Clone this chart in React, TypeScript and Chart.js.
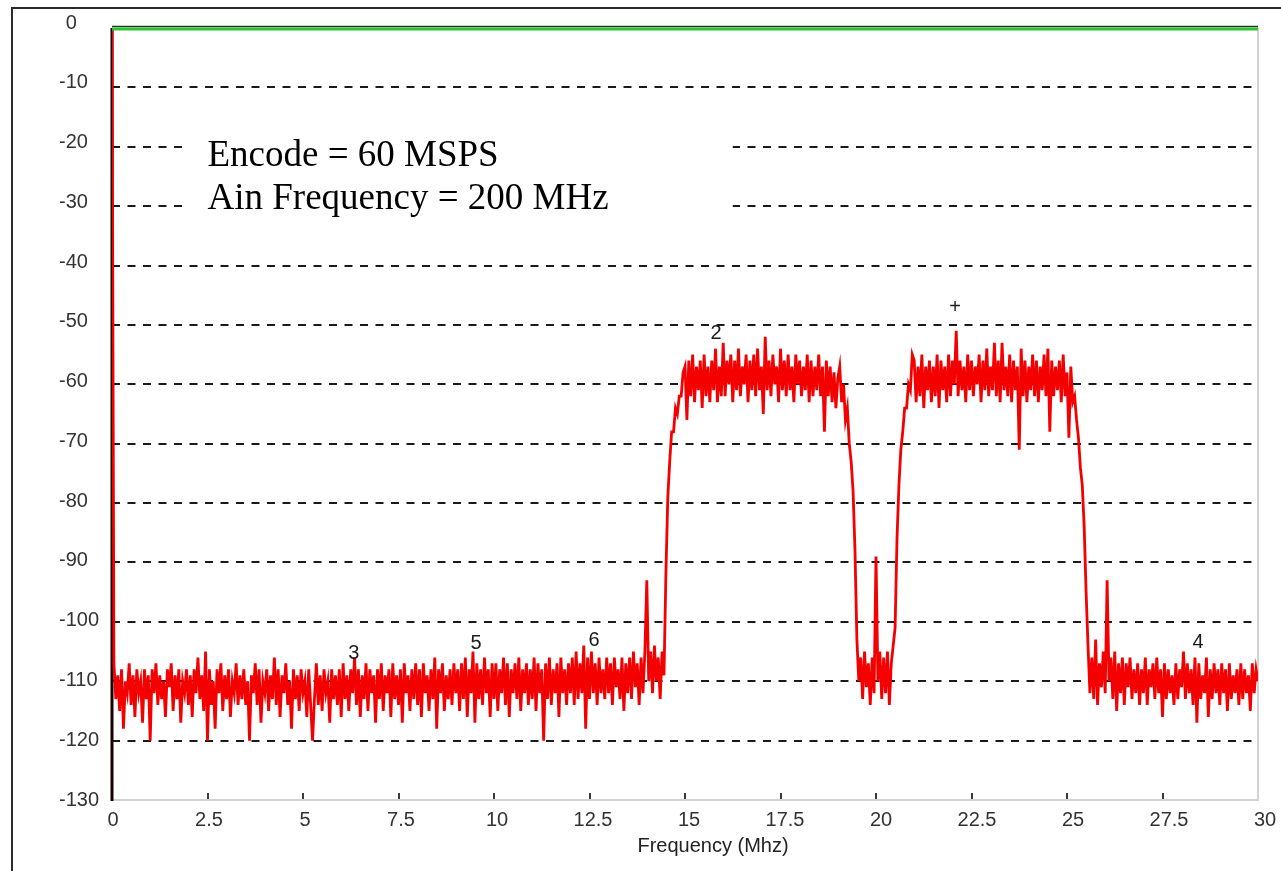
import React, { useEffect, useRef } from 'react';
import { Chart, registerables } from 'chart.js';

Chart.register(...registerables);

// Frequency grid of the FFT trace (MHz per bin)
const FREQ_STEP_MHZ = 0.05;

// Trace levels in dBFS, bin by bin (0.05 MHz apart)
// 0.00 .. 14.45 MHz : noise floor
const floorLow = [
  0, -107, -113, -109, -115, -108, -118, -110, -112, -107, -114, -109, -116, -108, -112, -110, -117, -108, -113, -109,
  -120, -108, -112, -107, -114, -109, -113, -110, -116, -108, -111, -107, -115, -109, -113, -108, -117, -110, -112, -108,
  -114, -109, -116, -108, -112, -106, -113, -109, -115, -105, -120, -108, -114, -110, -118, -108, -112, -107, -115, -109,
  -113, -108, -116, -110, -112, -107, -114, -109, -113, -108, -114, -110, -120, -109, -112, -107, -114, -108, -117, -110,
  -112, -108, -115, -109, -113, -106, -114, -108, -116, -109, -112, -107, -114, -110, -118, -108, -113, -109, -115, -108,
  -112, -110, -116, -108, -114, -120, -113, -107, -114, -109, -115, -108, -112, -110, -117, -108, -113, -109, -114, -108,
  -116, -107, -113, -109, -115, -108, -112, -106, -114, -108, -116, -109, -113, -107, -115, -108, -112, -109, -117, -108,
  -113, -107, -115, -109, -112, -108, -116, -107, -113, -109, -114, -108, -117, -107, -112, -109, -115, -108, -113, -107,
  -114, -108, -116, -107, -112, -109, -115, -108, -113, -106, -118, -108, -112, -107, -115, -109, -113, -108, -114, -107,
  -112, -108, -115, -107, -113, -106, -116, -108, -112, -105, -117, -107, -113, -108, -114, -106, -112, -108, -116, -107,
  -113, -107, -115, -108, -112, -106, -114, -107, -116, -108, -112, -107, -113, -106, -115, -108, -112, -107, -114, -108,
  -113, -106, -115, -107, -112, -108, -120, -107, -113, -106, -114, -108, -112, -107, -116, -106, -112, -108, -114, -107,
  -112, -106, -114, -105, -113, -107, -112, -104, -118, -106, -113, -105, -112, -107, -114, -106, -112, -108, -113, -106,
  -112, -107, -114, -106, -111, -108, -113, -106, -115, -107, -112, -106, -113, -105, -111, -107, -114, -106, -112, -105,
  -93, -110, -105, -112, -104, -110, -106, -113, -105, -109,
];
// 14.50 .. 14.95 MHz : rising edge of the first alias band
const riseA = [-92, -79, -73, -68, -68, -64, -65, -62, -62, -58];
// 15.00 .. 19.00 MHz : first band plateau
const bandA = [
  -57, -66, -56, -62, -55, -63, -57, -61, -56, -64, -55, -62, -57, -63, -56, -61, -54, -63, -57, -62,
  -53, -62, -56, -60, -55, -63, -56, -61, -54, -62, -57, -60, -55, -63, -56, -61, -55, -62, -54, -61,
  -57, -65, -52, -61, -56, -62, -55, -60, -57, -63, -54, -61, -56, -62, -55, -61, -57, -63, -55, -60,
  -56, -62, -57, -61, -55, -63, -56, -62, -57, -61, -55, -62, -57, -68, -56, -62, -57, -63, -58, -64,
  -59,
];
// 19.05 .. 19.50 MHz : falling edge
const fallA = [-57, -63, -60, -66, -64, -70, -73, -78, -88, -103];
// 19.55 .. 20.45 MHz : notch between the bands
const notch = [-110, -106, -113, -105, -111, -107, -114, -106, -112, -89, -110, -105, -113, -106, -112, -105, -114, -107, -104];
// 20.50 .. 20.95 MHz : rising edge of the second band
const riseB = [-101, -86, -77, -71, -68, -64, -64, -60, -61, -55];
// 21.00 .. 25.05 MHz : second band plateau
const bandB = [
  -56, -63, -57, -62, -55, -64, -57, -61, -56, -63, -57, -62, -55, -64, -56, -61, -57, -63, -55, -62,
  -56, -60, -51, -62, -56, -61, -57, -63, -55, -61, -56, -62, -57, -60, -55, -63, -56, -61, -54, -62,
  -57, -61, -53, -62, -56, -63, -53, -61, -57, -62, -55, -63, -56, -61, -57, -71, -54, -62, -56, -63,
  -57, -61, -55, -62, -56, -63, -57, -61, -55, -62, -54, -68, -56, -62, -57, -61, -56, -63, -55, -62,
  -58, -69,
];
// 25.10 .. 25.50 MHz : falling edge
const fallB = [-57, -63, -62, -66, -69, -74, -77, -84, -95];
// 25.55 .. 30.00 MHz : noise floor
const floorHigh = [
  -104, -112, -106, -113, -103, -114, -107, -111, -105,
  -112, -93, -110, -106, -113, -105, -115, -107, -112, -106, -114, -107, -111, -106, -113, -108, -112, -107, -114, -108,
  -112, -106, -114, -108, -111, -107, -113, -106, -112, -108, -116, -107, -113, -108, -112, -109, -114, -107, -113, -108,
  -111, -105, -113, -107, -112, -108, -114, -106, -117, -107, -113, -109, -112, -106, -116, -108, -113, -107, -112, -108,
  -114, -107, -112, -108, -115, -107, -113, -109, -112, -108, -114, -107, -113, -108, -112, -109, -115, -107, -112, -108,
  -110,
];

const spectrumDb = [...floorLow, ...riseA, ...bandA, ...fallA, ...notch, ...riseB, ...bandB, ...fallB, ...floorHigh];

// Axis setup
const X_MIN = 0;
const X_MAX = 30;
const X_STEP = 2.5;
const Y_MIN = -130;
const Y_MAX = 0;
const Y_STEP = 10;
const X_TITLE = 'Frequency (Mhz)';

// Reference (full-scale) level line
const refLevelDb = 0;

// Harmonic / marker labels on the trace
const markerLabels = ['2', '+', '3', '5', '6', '4'];
const markerFreqs = [15.81, 22.07, 6.33, 9.53, 12.62, 28.43];
const markerLevels = [-51.4, -47.0, -105.4, -103.7, -103.1, -103.4];

// Annotation text
const noteLines = ['Encode = 60 MSPS', 'Ain Frequency = 200 MHz'];

const SANS = '"Liberation Sans", Arial, Helvetica, sans-serif';
const SERIF = '"Liberation Serif", "Times New Roman", Times, serif';

const decorPlugin = {
  id: 'spectrumDecor',
  beforeDraw(chart: any) {
    const { ctx } = chart;
    ctx.save();
    ctx.fillStyle = '#ffffff';
    ctx.fillRect(0, 0, chart.width, chart.height);
    ctx.restore();
  },
  beforeDatasetsDraw(chart: any) {
    const { ctx, chartArea: a } = chart;
    const xs = chart.scales.x;
    const ys = chart.scales.y;
    ctx.save();

    // outer frame
    ctx.strokeStyle = '#2b2b2b';
    ctx.lineWidth = 2;
    ctx.beginPath();
    ctx.moveTo(12, chart.height);
    ctx.lineTo(12, 8);
    ctx.lineTo(chart.width, 8);
    ctx.stroke();

    // dashed horizontal grid
    ctx.strokeStyle = '#1a1a1a';
    ctx.lineWidth = 2;
    ctx.setLineDash([8, 7.5]);
    ys.ticks.forEach((t: any) => {
      if (t.value === Y_MIN || t.value === Y_MAX) return;
      const y = Math.round(ys.getPixelForValue(t.value));
      ctx.beginPath();
      ctx.moveTo(a.left, y);
      ctx.lineTo(a.right, y);
      ctx.stroke();
    });
    ctx.setLineDash([]);

    // right and bottom frame of the plot (light grey)
    ctx.strokeStyle = '#d2d2d2';
    ctx.lineWidth = 2;
    ctx.beginPath();
    ctx.moveTo(a.right, a.top);
    ctx.lineTo(a.right, a.bottom);
    ctx.lineTo(a.left, a.bottom);
    ctx.stroke();

    // x tick marks
    ctx.strokeStyle = '#3a3a3a';
    ctx.lineWidth = 2;
    xs.ticks.forEach((t: any) => {
      if (t.value === X_MIN || t.value === X_MAX) return;
      const x = Math.round(xs.getPixelForValue(t.value));
      ctx.beginPath();
      ctx.moveTo(x, a.bottom - 7);
      ctx.lineTo(x, a.bottom - 1);
      ctx.stroke();
    });

    // annotation box
    const bx0 = xs.getPixelForValue(2.0);
    const bx1 = xs.getPixelForValue(16.25);
    const by0 = ys.getPixelForValue(-16.5);
    const by1 = ys.getPixelForValue(-32.7);
    ctx.fillStyle = '#ffffff';
    ctx.fillRect(bx0, by0, bx1 - bx0, by1 - by0);
    ctx.fillStyle = '#000000';
    ctx.font = `37px ${SERIF}`;
    ctx.textAlign = 'left';
    ctx.textBaseline = 'alphabetic';
    ctx.fillText(noteLines[0], xs.getPixelForValue(2.5), ys.getPixelForValue(-23.2));
    ctx.fillText(noteLines[1], xs.getPixelForValue(2.5), ys.getPixelForValue(-30.5));

    // left axis
    ctx.strokeStyle = '#1a0000';
    ctx.lineWidth = 3;
    ctx.beginPath();
    ctx.moveTo(a.left, a.top);
    ctx.lineTo(a.left, a.bottom + 1);
    ctx.stroke();

    ctx.restore();
  },
  afterDatasetsDraw(chart: any) {
    const { ctx, chartArea: a } = chart;
    const xs = chart.scales.x;
    const ys = chart.scales.y;
    ctx.save();

    // reference level line (green with dark top edge)
    const yr = ys.getPixelForValue(refLevelDb);
    ctx.strokeStyle = '#203820';
    ctx.lineWidth = 1.5;
    ctx.beginPath();
    ctx.moveTo(a.left, yr - 1.5);
    ctx.lineTo(a.right, yr - 1.5);
    ctx.stroke();
    ctx.strokeStyle = '#2ec42e';
    ctx.lineWidth = 3;
    ctx.beginPath();
    ctx.moveTo(a.left, yr + 1);
    ctx.lineTo(a.right, yr + 1);
    ctx.stroke();

    // marker labels
    ctx.fillStyle = '#1a1a1a';
    ctx.font = `20px ${SANS}`;
    ctx.textAlign = 'center';
    ctx.textBaseline = 'middle';
    markerLabels.forEach((lbl, i) => {
      ctx.fillText(lbl, xs.getPixelForValue(markerFreqs[i]), ys.getPixelForValue(markerLevels[i]));
    });

    // y tick labels (left aligned, minus sign slot kept for 0)
    ctx.fillStyle = '#333333';
    ctx.font = `20px ${SANS}`;
    ctx.textAlign = 'left';
    const minusW = ctx.measureText('-').width;
    ys.ticks.forEach((t: any) => {
      const frac = (t.value - Y_MIN) / (Y_MAX - Y_MIN);
      const y = ys.getPixelForValue(t.value) - 5 * frac;
      const txt = String(t.value);
      ctx.fillText(txt, t.value < 0 ? 59 : 59 + minusW, y);
    });

    // x tick labels
    ctx.textAlign = 'center';
    xs.ticks.forEach((t: any) => {
      const x = xs.getPixelForValue(t.value) + 1 + 6 * (t.value / X_MAX);
      ctx.fillText(String(t.value), x, a.bottom + 20);
    });

    // x axis title
    ctx.fillStyle = '#222222';
    ctx.fillText(X_TITLE, 713, a.bottom + 46);

    ctx.restore();
  },
};

export default function App() {
  const canvasRef = useRef<HTMLCanvasElement | null>(null);

  useEffect(() => {
    document.body.style.margin = '0';
    const canvas = canvasRef.current;
    if (!canvas) return;
    const points = spectrumDb.map((v, i) => ({ x: i * FREQ_STEP_MHZ, y: v }));
    const chart = new Chart(canvas, {
      type: 'line',
      data: {
        datasets: [
          {
            label: 'Spectrum',
            data: points,
            borderColor: '#f40000',
            borderWidth: 2.8,
            borderJoinStyle: 'miter',
            pointRadius: 0,
            tension: 0,
            fill: false,
          },
        ],
      },
      options: {
        responsive: false,
        animation: false,
        devicePixelRatio: 1,
        parsing: false,
        normalized: true,
        layout: { padding: { left: 0, top: 28, right: 23, bottom: 0 } },
        plugins: {
          legend: { display: false },
          tooltip: { enabled: false },
          title: { display: false },
        },
        scales: {
          x: {
            type: 'linear',
            min: X_MIN,
            max: X_MAX,
            ticks: { stepSize: X_STEP, display: false },
            grid: { display: false },
            border: { display: false },
            afterFit: (s: any) => {
              s.height = 71;
            },
          },
          y: {
            type: 'linear',
            min: Y_MIN,
            max: Y_MAX,
            ticks: { stepSize: Y_STEP, display: false },
            grid: { display: false },
            border: { display: false },
            afterFit: (s: any) => {
              s.width = 112;
            },
          },
        },
      } as any,
      plugins: [decorPlugin],
    });
    return () => chart.destroy();
  }, []);

  return (
    <div style={{ width: 1281, height: 871, position: 'relative', background: '#fff' }}>
      <canvas ref={canvasRef} width={1281} height={871} style={{ width: 1281, height: 871, display: 'block' }} />
    </div>
  );
}
